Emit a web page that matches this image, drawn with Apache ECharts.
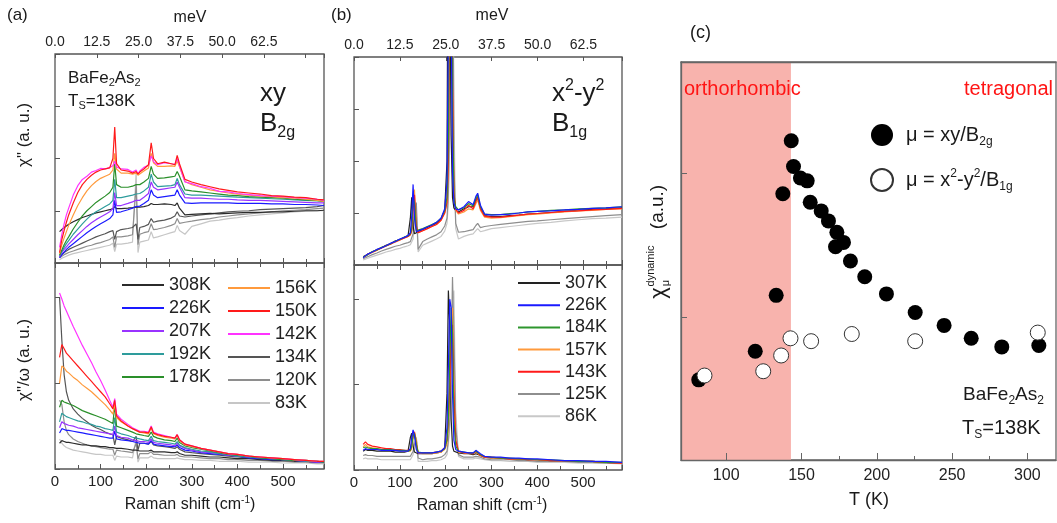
<!DOCTYPE html>
<html>
<head>
<meta charset="utf-8">
<title>BaFe2As2 Raman spectra</title>
<script src="https://cdn.jsdelivr.net/npm/echarts@6.0.0/dist/echarts.min.js"></script>
<style>
  html, body { margin: 0; padding: 0; background: #fff; }
  #chart { width: 1057px; height: 523px; }
</style>
</head>
<body>
<div id="chart"></div>
<script>
// Raman shift sampling, cm-1
const shiftA = [10,15,20,25,30,40,50,60,70,80,90,100,110,120,127,131,135,145,160,170,178,182,186,195,205,211,216,225,240,255,263,268,273,285,300,320,340,360,380,400,425,450,475,500,525,550,575,590];
const shiftB = [20,25,30,40,50,60,70,80,90,100,110,118,123,126,129,132,136,140,150,160,170,180,190,198,203,206,209,212,215,218,222,228,240,250,260,266,270,276,285,300,320,340,360,380,400,430,460,490,520,550,585];

// (a) xy / B2g : chi'' (top)
const chiA308 = [0.60,0.64,0.68,0.71,0.74,0.79,0.83,0.87,0.90,0.93,0.96,0.98,1.00,1.02,1.04,1.08,1.04,1.04,1.05,1.06,1.07,1.05,1.07,1.08,1.10,1.14,1.12,1.12,1.13,1.12,1.10,1.15,1.05,0.92,0.93,0.94,0.95,0.94,0.95,0.96,0.97,0.97,0.98,0.98,0.99,1.00,1.00,1.01];
const chiA226 = [0.10,0.16,0.21,0.26,0.30,0.37,0.44,0.51,0.58,0.64,0.70,0.75,0.80,0.85,0.92,1.20,0.97,0.98,1.02,1.05,1.08,1.07,1.09,1.14,1.20,1.40,1.30,1.25,1.27,1.29,1.30,1.40,1.30,1.15,1.14,1.15,1.15,1.15,1.15,1.14,1.14,1.14,1.13,1.13,1.12,1.12,1.11,1.10];
const chiA207 = [0.12,0.20,0.26,0.31,0.36,0.45,0.54,0.62,0.70,0.77,0.83,0.88,0.93,0.98,1.04,1.35,1.10,1.10,1.14,1.17,1.20,1.18,1.20,1.26,1.33,1.55,1.45,1.40,1.42,1.44,1.45,1.55,1.45,1.25,1.24,1.24,1.23,1.22,1.22,1.21,1.20,1.20,1.19,1.18,1.17,1.16,1.15,1.15];
const chiA192 = [0.14,0.22,0.30,0.37,0.43,0.55,0.65,0.75,0.84,0.92,0.98,1.03,1.08,1.13,1.20,1.60,1.25,1.25,1.28,1.30,1.32,1.30,1.33,1.38,1.45,1.70,1.55,1.46,1.47,1.48,1.50,1.62,1.50,1.32,1.30,1.30,1.29,1.28,1.27,1.26,1.25,1.24,1.23,1.22,1.21,1.20,1.19,1.18];
const chiA178 = [0.15,0.25,0.35,0.43,0.50,0.65,0.78,0.90,1.00,1.08,1.16,1.22,1.28,1.35,1.45,1.90,1.50,1.45,1.45,1.47,1.50,1.48,1.50,1.55,1.62,1.85,1.70,1.62,1.63,1.65,1.66,1.75,1.66,1.40,1.38,1.36,1.34,1.32,1.30,1.29,1.27,1.26,1.25,1.24,1.22,1.21,1.20,1.18];
const chiA156 = [0.18,0.35,0.48,0.60,0.72,0.92,1.10,1.25,1.38,1.48,1.56,1.62,1.66,1.70,1.78,2.10,1.80,1.72,1.72,1.70,1.72,1.68,1.70,1.76,1.82,2.10,1.92,1.85,1.85,1.86,1.85,1.95,1.84,1.56,1.50,1.45,1.40,1.37,1.34,1.32,1.30,1.28,1.27,1.25,1.24,1.22,1.20,1.18];
const chiA150 = [0.20,0.45,0.62,0.78,0.92,1.15,1.35,1.50,1.60,1.68,1.74,1.78,1.80,1.82,2.00,2.60,1.90,1.78,1.76,1.72,1.75,1.70,1.74,1.80,1.88,2.30,2.00,1.90,1.93,1.90,1.88,2.06,1.90,1.60,1.55,1.50,1.46,1.42,1.39,1.36,1.34,1.32,1.29,1.28,1.26,1.25,1.22,1.21];
const chiA142 = [0.30,0.55,0.75,0.92,1.05,1.30,1.48,1.60,1.66,1.74,1.77,1.81,1.80,1.83,1.86,1.95,1.84,1.80,1.79,1.74,1.78,1.71,1.76,1.83,1.87,2.05,1.94,1.88,1.92,1.90,1.89,2.00,1.86,1.55,1.52,1.46,1.43,1.37,1.36,1.33,1.31,1.29,1.28,1.27,1.25,1.24,1.22,1.20];
const chiA134 = [0.12,0.16,0.20,0.23,0.26,0.30,0.34,0.38,0.42,0.46,0.50,0.53,0.56,0.60,0.62,0.45,0.60,0.64,0.66,0.68,0.75,0.45,0.68,0.70,0.74,0.85,0.78,0.80,0.82,0.86,0.90,0.98,0.90,0.88,0.90,0.92,0.94,0.96,0.98,0.99,1.00,1.02,1.03,1.04,1.05,1.06,1.08,1.10];
const chiA120 = [0.10,0.13,0.16,0.18,0.20,0.23,0.26,0.29,0.32,0.34,0.37,0.39,0.42,0.45,0.50,0.30,0.50,0.50,0.52,0.54,1.50,0.35,0.55,0.58,0.60,0.75,0.64,0.65,0.68,0.72,0.75,0.85,0.76,0.78,0.80,0.83,0.85,0.88,0.90,0.92,0.94,0.96,0.98,1.00,1.01,1.02,1.04,1.05];
const chiA83  = [0.06,0.09,0.11,0.13,0.15,0.18,0.20,0.22,0.24,0.26,0.28,0.30,0.32,0.34,0.38,0.22,0.36,0.36,0.38,0.40,1.75,0.20,0.40,0.42,0.44,0.60,0.48,0.50,0.54,0.58,0.60,0.72,0.62,0.55,0.70,0.75,0.80,0.82,0.85,0.87,0.90,0.92,0.94,0.96,0.98,0.99,1.00,1.00];

// (a) xy / B2g : chi''/omega (bottom)
const rA308 = [0.30,0.33,0.32,0.31,0.31,0.30,0.29,0.28,0.28,0.27,0.27,0.26,0.26,0.25,0.25,0.27,0.24,0.24,0.23,0.22,0.22,0.22,0.21,0.21,0.21,0.22,0.20,0.20,0.20,0.19,0.19,0.20,0.18,0.16,0.16,0.15,0.14,0.14,0.13,0.12,0.12,0.11,0.10,0.10,0.09,0.09,0.08,0.08];
const rA226 = [0.42,0.47,0.46,0.45,0.45,0.44,0.43,0.42,0.41,0.40,0.39,0.38,0.37,0.36,0.36,0.44,0.35,0.34,0.33,0.32,0.31,0.31,0.30,0.30,0.29,0.33,0.29,0.28,0.27,0.26,0.26,0.28,0.25,0.22,0.21,0.19,0.18,0.17,0.16,0.15,0.13,0.12,0.11,0.11,0.10,0.09,0.08,0.08];
const rA207 = [0.48,0.55,0.53,0.52,0.51,0.50,0.48,0.47,0.46,0.45,0.44,0.43,0.42,0.41,0.40,0.50,0.39,0.37,0.36,0.34,0.33,0.33,0.32,0.32,0.31,0.35,0.31,0.30,0.29,0.28,0.27,0.30,0.27,0.24,0.22,0.20,0.19,0.18,0.16,0.15,0.14,0.13,0.12,0.11,0.10,0.09,0.08,0.08];
const rA192 = [0.55,0.65,0.63,0.61,0.60,0.58,0.56,0.55,0.53,0.52,0.50,0.49,0.47,0.46,0.45,0.60,0.43,0.41,0.39,0.37,0.36,0.35,0.35,0.34,0.33,0.38,0.33,0.32,0.31,0.30,0.29,0.32,0.28,0.25,0.23,0.21,0.20,0.18,0.17,0.15,0.14,0.13,0.12,0.11,0.10,0.09,0.09,0.08];
const rA178 = [0.72,0.80,0.78,0.77,0.76,0.74,0.71,0.68,0.66,0.64,0.62,0.60,0.58,0.55,0.53,0.75,0.50,0.48,0.45,0.43,0.41,0.40,0.40,0.39,0.38,0.43,0.38,0.36,0.34,0.33,0.32,0.36,0.31,0.27,0.25,0.23,0.21,0.19,0.17,0.16,0.15,0.13,0.12,0.11,0.10,0.10,0.09,0.08];
const rA156 = [1.00,1.20,1.18,1.14,1.12,1.07,1.03,0.98,0.94,0.90,0.85,0.80,0.75,0.69,0.64,0.76,0.60,0.55,0.50,0.47,0.45,0.44,0.43,0.42,0.41,0.48,0.41,0.39,0.37,0.36,0.35,0.39,0.33,0.28,0.26,0.24,0.22,0.20,0.18,0.17,0.15,0.14,0.13,0.12,0.11,0.10,0.09,0.09];
const rA150 = [1.30,1.45,1.40,1.35,1.32,1.26,1.20,1.14,1.08,1.02,0.96,0.90,0.84,0.76,0.70,0.80,0.62,0.56,0.50,0.47,0.45,0.44,0.43,0.43,0.42,0.49,0.42,0.40,0.38,0.37,0.36,0.40,0.34,0.29,0.27,0.24,0.22,0.20,0.18,0.17,0.15,0.14,0.13,0.12,0.11,0.10,0.09,0.09];
const rA142 = [2.05,1.98,1.90,1.84,1.78,1.66,1.55,1.44,1.34,1.24,1.13,1.03,0.92,0.80,0.72,0.82,0.64,0.58,0.52,0.48,0.46,0.45,0.44,0.44,0.43,0.50,0.43,0.41,0.39,0.37,0.36,0.40,0.34,0.29,0.27,0.24,0.22,0.20,0.18,0.17,0.15,0.14,0.13,0.12,0.11,0.10,0.09,0.09];
const rA134 = [2.00,1.50,1.10,0.90,0.80,0.70,0.64,0.59,0.55,0.51,0.48,0.46,0.43,0.41,0.40,0.28,0.38,0.36,0.34,0.32,0.38,0.22,0.30,0.30,0.29,0.32,0.28,0.27,0.26,0.25,0.24,0.26,0.23,0.20,0.19,0.18,0.17,0.16,0.15,0.14,0.13,0.12,0.11,0.10,0.10,0.09,0.09,0.08];
const rA120 = [0.80,0.75,0.55,0.45,0.40,0.35,0.32,0.30,0.28,0.27,0.26,0.25,0.24,0.23,0.23,0.16,0.22,0.21,0.20,0.19,0.30,0.12,0.18,0.18,0.18,0.20,0.17,0.17,0.16,0.16,0.16,0.17,0.15,0.14,0.14,0.13,0.12,0.12,0.11,0.11,0.10,0.10,0.09,0.09,0.08,0.08,0.07,0.07];
const rA83  = [0.35,0.30,0.27,0.25,0.24,0.22,0.21,0.20,0.19,0.18,0.17,0.17,0.16,0.16,0.16,0.10,0.15,0.14,0.14,0.13,0.35,0.08,0.13,0.13,0.13,0.15,0.13,0.12,0.12,0.12,0.12,0.13,0.12,0.11,0.11,0.10,0.10,0.09,0.09,0.09,0.08,0.08,0.08,0.07,0.07,0.07,0.06,0.06];

// (b) x2-y2 / B1g : chi'' (top)
const chiB307 = [0.15,0.17,0.20,0.25,0.29,0.33,0.38,0.41,0.46,0.49,0.53,0.56,0.90,1.30,0.75,0.60,0.62,0.64,0.68,0.72,0.76,0.80,0.88,1.05,2.0,8.0,6.0,2.5,1.3,1.1,1.05,1.02,1.08,1.12,1.12,1.25,1.30,1.10,0.95,0.93,0.93,0.95,0.96,0.98,0.99,1.01,1.03,1.05,1.07,1.08,1.10];
const chiB226 = [0.14,0.18,0.21,0.25,0.30,0.33,0.37,0.42,0.45,0.50,0.53,0.57,0.62,0.95,1.55,0.90,0.64,0.65,0.69,0.73,0.77,0.82,0.90,1.08,1.6,4.5,8.0,5.0,1.8,1.2,1.08,1.06,1.12,1.22,1.16,1.32,1.38,1.15,0.98,0.96,0.97,0.98,1.00,1.02,1.03,1.04,1.06,1.07,1.09,1.10,1.12];
const chiB184 = [0.16,0.18,0.20,0.26,0.29,0.34,0.37,0.41,0.46,0.49,0.54,0.56,0.60,0.70,1.30,1.20,0.66,0.66,0.70,0.74,0.78,0.82,0.90,1.05,1.3,2.5,6.0,8.0,3.0,1.3,1.12,1.06,1.10,1.18,1.14,1.28,1.35,1.12,0.98,0.97,0.97,0.99,1.00,1.02,1.03,1.05,1.06,1.08,1.09,1.10,1.12];
const chiB157 = [0.15,0.17,0.21,0.24,0.28,0.33,0.36,0.41,0.44,0.48,0.52,0.55,0.58,0.65,1.10,1.45,0.70,0.62,0.66,0.70,0.74,0.78,0.86,1.00,1.2,2.0,5.0,8.0,3.5,1.4,1.05,0.98,1.02,1.08,1.06,1.18,1.25,1.05,0.92,0.90,0.91,0.93,0.95,0.97,0.98,1.00,1.02,1.04,1.05,1.07,1.08];
const chiB143 = [0.16,0.18,0.21,0.25,0.29,0.33,0.37,0.40,0.45,0.48,0.52,0.55,0.58,0.66,1.05,1.35,0.75,0.62,0.66,0.70,0.74,0.78,0.86,1.00,1.2,2.0,5.0,8.0,3.5,1.4,1.08,1.00,1.05,1.15,1.08,1.22,1.30,1.08,0.94,0.92,0.92,0.94,0.96,0.98,0.99,1.01,1.03,1.04,1.06,1.07,1.09];
const chiB125 = [0.12,0.14,0.16,0.20,0.23,0.27,0.30,0.33,0.36,0.38,0.41,0.43,0.45,0.48,0.60,1.00,1.20,0.30,0.45,0.50,0.54,0.58,0.64,0.75,0.9,1.4,3.0,6.0,8.0,2.0,0.80,0.63,0.64,0.66,0.68,0.76,0.80,0.72,0.74,0.76,0.78,0.80,0.82,0.84,0.85,0.87,0.89,0.91,0.93,0.95,0.97];
const chiB86  = [0.10,0.11,0.13,0.16,0.19,0.22,0.25,0.27,0.30,0.32,0.35,0.37,0.39,0.41,0.50,0.85,1.05,0.25,0.38,0.42,0.46,0.50,0.55,0.65,0.8,1.2,2.5,5.0,8.0,3.0,0.70,0.50,0.55,0.58,0.60,0.66,0.70,0.64,0.66,0.70,0.72,0.74,0.76,0.78,0.80,0.82,0.85,0.87,0.89,0.90,0.92];

// (b) x2-y2 / B1g : chi''/omega (bottom)
const rB307 = [0.22,0.24,0.23,0.23,0.22,0.22,0.22,0.22,0.21,0.21,0.21,0.22,0.38,0.43,0.28,0.21,0.20,0.19,0.19,0.19,0.19,0.20,0.21,0.26,0.9,2.10,1.70,0.60,0.28,0.22,0.21,0.20,0.19,0.19,0.18,0.19,0.20,0.17,0.15,0.14,0.14,0.13,0.13,0.12,0.12,0.11,0.11,0.10,0.10,0.09,0.08];
const rB226 = [0.23,0.25,0.24,0.24,0.24,0.23,0.23,0.23,0.23,0.22,0.22,0.22,0.25,0.38,0.47,0.40,0.24,0.20,0.20,0.20,0.20,0.21,0.22,0.26,0.50,1.20,2.00,1.90,0.90,0.35,0.24,0.22,0.21,0.20,0.20,0.23,0.24,0.19,0.16,0.15,0.15,0.14,0.14,0.13,0.13,0.12,0.11,0.11,0.10,0.10,0.09];
const rB184 = [0.26,0.27,0.26,0.25,0.25,0.24,0.24,0.24,0.23,0.23,0.23,0.22,0.23,0.28,0.40,0.43,0.30,0.21,0.20,0.20,0.20,0.21,0.22,0.25,0.35,0.60,1.30,1.90,1.60,0.60,0.28,0.22,0.21,0.20,0.20,0.22,0.23,0.18,0.16,0.15,0.14,0.14,0.13,0.13,0.12,0.12,0.11,0.10,0.10,0.09,0.09];
const rB157 = [0.27,0.30,0.27,0.26,0.25,0.24,0.24,0.23,0.23,0.23,0.22,0.22,0.22,0.25,0.38,0.45,0.35,0.20,0.19,0.19,0.19,0.20,0.21,0.24,0.30,0.50,0.90,1.60,1.90,1.00,0.35,0.21,0.20,0.19,0.19,0.21,0.22,0.17,0.15,0.14,0.14,0.13,0.13,0.12,0.12,0.11,0.11,0.10,0.10,0.09,0.08];
const rB143 = [0.30,0.33,0.30,0.28,0.27,0.26,0.25,0.25,0.24,0.24,0.23,0.23,0.23,0.25,0.40,0.44,0.30,0.20,0.20,0.20,0.20,0.21,0.22,0.26,0.35,0.60,1.00,1.55,1.70,0.90,0.35,0.22,0.20,0.20,0.19,0.22,0.22,0.17,0.15,0.15,0.14,0.13,0.13,0.12,0.12,0.11,0.11,0.10,0.10,0.09,0.08];
const rB125 = [0.17,0.18,0.17,0.17,0.16,0.16,0.16,0.16,0.16,0.16,0.16,0.16,0.16,0.18,0.22,0.30,0.38,0.14,0.12,0.13,0.13,0.14,0.15,0.18,0.22,0.35,0.60,1.30,2.26,1.60,0.50,0.18,0.15,0.15,0.15,0.16,0.17,0.15,0.13,0.12,0.12,0.12,0.11,0.11,0.10,0.10,0.10,0.09,0.09,0.08,0.08];
const rB86  = [0.13,0.14,0.13,0.13,0.13,0.12,0.12,0.12,0.12,0.12,0.12,0.12,0.12,0.14,0.18,0.25,0.32,0.10,0.10,0.10,0.11,0.11,0.12,0.14,0.18,0.30,0.50,1.00,2.00,2.10,0.70,0.16,0.13,0.13,0.13,0.14,0.15,0.13,0.12,0.11,0.11,0.10,0.10,0.10,0.09,0.09,0.09,0.08,0.08,0.08,0.07];

// (c) dynamic susceptibility vs temperature
const tempB2g = [81.8,119.3,133.2,137.6,143.2,144.7,149.3,153.8,155.8,163.1,167.9,172.6,173.5,177.9,182.5,192,206.4,225.5,244.7,262.7,283,307.6];
const chiDynB2g = [0.56,0.76,1.15,1.86,2.23,2.05,1.97,1.95,1.80,1.74,1.67,1.49,1.59,1.52,1.39,1.28,1.16,1.03,0.94,0.85,0.79,0.80];
const tempB1g = [85.6,124.6,136.5,142.7,156.4,183.4,225.5,306.9];
const chiDynB1g = [0.59,0.62,0.73,0.85,0.83,0.88,0.83,0.89];
const orthoRange = [70, 143];

const tLabels = [100, 150, 200, 250, 300];
const tMinor = [75, 125, 175, 225, 275];
const meVTicks = [0, 12.5, 25, 37.5, 50, 62.5];

const FONT = "'Liberation Sans', Arial, sans-serif";
const frame = '#555';

const curvesA = [
  ['83K',  chiA83,  rA83,  '#c6c6c6'],
  ['120K', chiA120, rA120, '#8e8e8e'],
  ['134K', chiA134, rA134, '#555555'],
  ['308K', chiA308, rA308, '#2b2b2b'],
  ['226K', chiA226, rA226, '#1a1aff'],
  ['207K', chiA207, rA207, '#9933ff'],
  ['192K', chiA192, rA192, '#2e9c9c'],
  ['178K', chiA178, rA178, '#2a8f2a'],
  ['156K', chiA156, rA156, '#ff9a3c'],
  ['142K', chiA142, rA142, '#ff33ff'],
  ['150K', chiA150, rA150, '#ff1a1a']
];
const curvesB = [
  ['86K',  chiB86,  rB86,  '#c8c8c8'],
  ['125K', chiB125, rB125, '#8e8e8e'],
  ['307K', chiB307, rB307, '#222222'],
  ['157K', chiB157, rB157, '#ff9a3c'],
  ['143K', chiB143, rB143, '#ff1a1a'],
  ['184K', chiB184, rB184, '#2e962e'],
  ['226K', chiB226, rB226, '#1a1aff']
];

function zip(xs, ys) { return xs.map((x, i) => [x, ys[i]]); }

function curve(name, xs, ys, color, xi, yi) {
  return {
    name: name, type: 'line', xAxisIndex: xi, yAxisIndex: yi,
    data: zip(xs, ys), symbol: 'none', showSymbol: false,
    lineStyle: { width: 1.2, color: color }, itemStyle: { color: color },
    animation: false, silent: true
  };
}

function cmAxis(gi, pos, max, labels) {
  return {
    type: 'value', gridIndex: gi, position: pos, min: 0, max: max, interval: 100,
    axisLine: { show: false },
    axisTick: { show: true, inside: true, length: 5, lineStyle: { color: frame } },
    minorTick: { show: true, splitNumber: 2, length: 4, lineStyle: { color: frame } },
    axisLabel: labels ? { show: true, fontSize: 15, fontFamily: FONT, color: '#222', margin: 5,
      formatter: v => (v % 100 === 0 ? String(v) : '') } : { show: false },
    splitLine: { show: false }, minorSplitLine: { show: false }
  };
}

function meVAxis(gi, max) {
  return {
    type: 'value', gridIndex: gi, position: 'top', min: 0, max: max, interval: 12.5,
    axisLine: { show: false },
    axisTick: { show: true, inside: true, length: 4, lineStyle: { color: frame } },
    axisLabel: { show: true, fontSize: 14, fontFamily: FONT, color: '#222', margin: 5,
      customValues: meVTicks, formatter: v => v.toFixed(1) },
    splitLine: { show: false }
  };
}

function yFrame(gi, max) {
  return {
    type: 'value', gridIndex: gi, min: 0, max: max, interval: 1,
    axisLine: { show: false },
    axisTick: { show: true, inside: true, length: 5, lineStyle: { color: frame } },
    axisLabel: { show: false }, splitLine: { show: false }
  };
}

function txt(x, y, text, size, extra) {
  const st = Object.assign({
    text: text, fontSize: size, fontFamily: FONT, fill: '#1a1a1a',
    align: 'left', textAlign: 'left', verticalAlign: 'middle', textVerticalAlign: 'middle'
  }, extra || {});
  return { type: 'text', x: x, y: y, z: 100, style: st, silent: true };
}
function richSet(size) {
  const s = Math.round(size * 0.62);
  return {
    m: { fontSize: size, fontFamily: FONT, lineHeight: Math.round(size * 1.25), fill: '#1a1a1a', color: '#1a1a1a' },
    s: { fontSize: s, fontFamily: FONT, lineHeight: Math.round(size * 0.6), verticalAlign: 'bottom', fill: '#1a1a1a', color: '#1a1a1a' },
    p: { fontSize: s, fontFamily: FONT, lineHeight: Math.round(size * 0.6), verticalAlign: 'top', fill: '#1a1a1a', color: '#1a1a1a' }
  };
}
function rtxt(x, y, text, size, extra) {
  return txt(x, y, text, size, Object.assign({ rich: richSet(size) }, extra || {}));
}
function vtxt(x, y, text, size) {
  return {
    type: 'text', x: x, y: y, z: 100, rotation: Math.PI / 2, silent: true,
    style: { text: text, fontSize: size, fontFamily: FONT, fill: '#1a1a1a',
      align: 'center', textAlign: 'center', verticalAlign: 'middle', textVerticalAlign: 'middle' }
  };
}

const series = [];
curvesA.forEach(c => {
  series.push(curve(c[0], shiftA, c[1], c[3], 0, 0));
  series.push(curve(c[0], shiftA, c[2], c[3], 2, 1));
});
curvesB.forEach(c => {
  series.push(curve(c[0], shiftB, c[1], c[3], 4, 2));
  series.push(curve(c[0], shiftB, c[2], c[3], 6, 3));
});
series.push({
  name: 'B2g', type: 'scatter', xAxisIndex: 8, yAxisIndex: 4,
  data: zip(tempB2g, chiDynB2g), symbol: 'circle', symbolSize: 15,
  itemStyle: { color: '#000', opacity: 1 }, animation: false, silent: true, z: 3,
  markArea: {
    silent: true, label: { show: false },
    itemStyle: { color: '#f8b3ad', opacity: 1 },
    data: [[{ xAxis: orthoRange[0] }, { xAxis: orthoRange[1] }]]
  }
});
series.push({
  name: 'B1g', type: 'scatter', xAxisIndex: 8, yAxisIndex: 4,
  data: zip(tempB1g, chiDynB1g), symbol: 'circle', symbolSize: 15,
  itemStyle: { color: '#fff', borderColor: '#333', borderWidth: 1, opacity: 1 },
  animation: false, silent: true, z: 4
});

// line legends: a flat bar stands in for the line sample
const lineLegend = (names, left, top, gap) => ({
  data: names, left: left, top: top, orient: 'vertical', padding: 0,
  icon: 'rect', itemWidth: 42, itemHeight: 2, itemGap: gap, selectedMode: false,
  textStyle: { fontSize: 18, fontFamily: FONT, color: '#222', lineHeight: 18 }
});

const chart = echarts.init(document.getElementById('chart'), null, { renderer: 'canvas' });
chart.setOption({
  animation: false,
  backgroundColor: '#fff',
  grid: [
    { left: 55, top: 54, width: 269, height: 209, show: true, borderColor: frame, borderWidth: 1.3 },
    { left: 55, top: 263, width: 269, height: 206, show: true, borderColor: frame, borderWidth: 1.3 },
    { left: 354, top: 57, width: 268, height: 208, show: true, borderColor: frame, borderWidth: 1.3 },
    { left: 354, top: 265, width: 268, height: 205, show: true, borderColor: frame, borderWidth: 1.3 },
    { left: 681, top: 62, width: 375, height: 398, show: true, borderColor: '#666', borderWidth: 1.3 }
  ],
  xAxis: [
    cmAxis(0, 'bottom', 590, false),
    meVAxis(0, 80.5),
    cmAxis(1, 'bottom', 590, true),
    cmAxis(1, 'top', 590, false),
    cmAxis(2, 'bottom', 585, false),
    meVAxis(2, 73),
    cmAxis(3, 'bottom', 585, true),
    cmAxis(3, 'top', 585, false),
    {
      type: 'value', gridIndex: 4, position: 'bottom', min: 70, max: 319, z: 5,
      axisLine: { show: true, lineStyle: { color: '#666', width: 1.3 } },
      axisTick: { show: true, inside: true, length: 7, customValues: tLabels, lineStyle: { color: '#666' } },
      axisLabel: { show: true, customValues: tLabels, fontSize: 16, fontFamily: FONT, color: '#222', margin: 8 },
      splitLine: { show: false }
    },
    {
      type: 'value', gridIndex: 4, position: 'bottom', min: 70, max: 319,
      axisLine: { show: false },
      axisTick: { show: true, inside: true, length: 4, customValues: tMinor, lineStyle: { color: '#666' } },
      axisLabel: { show: false }, splitLine: { show: false }
    },
    {
      type: 'value', gridIndex: 4, position: 'top', min: 70, max: 319, z: 5,
      axisLine: { show: true, lineStyle: { color: '#666', width: 1.3 } },
      axisTick: { show: false }, axisLabel: { show: false }, splitLine: { show: false }
    }
  ],
  yAxis: [
    yFrame(0, 4),
    yFrame(1, 2.4),
    yFrame(2, 4),
    yFrame(3, 2.4),
    {
      type: 'value', gridIndex: 4, min: 0, max: 2.78, z: 5,
      axisLine: { show: true, lineStyle: { color: '#666', width: 1.3 } },
      axisTick: { show: true, inside: true, length: 6, customValues: [1, 2], lineStyle: { color: '#666' } },
      axisLabel: { show: false }, splitLine: { show: false }
    }
  ],
  legend: [
    lineLegend(['308K', '226K', '207K', '192K', '178K'], 122, 276, 5),
    lineLegend(['156K', '150K', '142K', '134K', '120K', '83K'], 228, 279, 5),
    lineLegend(['307K', '226K', '184K', '157K', '143K', '125K', '86K'], 518, 274, 4.2),
    {
      data: ['B2g', 'B1g'], left: 870, top: 124, orient: 'vertical', padding: 0,
      itemWidth: 22, itemHeight: 22, itemGap: 20, selectedMode: false,
      formatter: n => (n === 'B2g' ? '{m|μ = xy/B}{s|2g}' : '{m|μ = x}{p|2}{m|-y}{p|2}{m|/B}{s|1g}'),
      textStyle: { color: '#111', padding: [0, 0, 0, 8], rich: richSet(20) }
    }
  ],
  graphic: [
    txt(7, 15, '(a)', 17),
    txt(190, 18, 'meV', 16, { align: 'center', textAlign: 'center' }),
    txt(331, 15, '(b)', 17),
    txt(492, 16, 'meV', 16, { align: 'center', textAlign: 'center' }),
    txt(690, 33, '(c)', 18),
    rtxt(68, 78, '{m|BaFe}{s|2}{m|As}{s|2}', 17),
    rtxt(68, 101, '{m|T}{s|S}{m|=138K}', 17),
    txt(260, 94, 'xy', 26),
    rtxt(260, 124, '{m|B}{s|2g}', 26),
    rtxt(552, 94, '{m|x}{p|2}{m|-y}{p|2}', 26),
    rtxt(552, 124, '{m|B}{s|1g}', 26),
    vtxt(24, 135, 'χ" (a. u.)', 17),
    vtxt(24, 360, 'χ"/ω (a. u.)', 17),
    rtxt(190, 505, '{m|Raman shift (cm}{p|-1}{m|)}', 16, { align: 'center', textAlign: 'center' }),
    rtxt(482, 506, '{m|Raman shift (cm}{p|-1}{m|)}', 16, { align: 'center', textAlign: 'center' }),
    txt(869, 500, 'T (K)', 18, { align: 'center', textAlign: 'center' }),
    txt(684, 89, 'orthorhombic', 20, { fill: '#ff1414' }),
    txt(1053, 89, 'tetragonal', 20, { fill: '#ff1414', align: 'right', textAlign: 'right' }),
    rtxt(963, 395, '{m|BaFe}{s|2}{m|As}{s|2}', 19),
    rtxt(962, 428, '{m|T}{s|S}{m|=138K}', 20),
    vtxt(659, 293, 'χ', 22),
    vtxt(651, 266, 'dynamic', 11),
    vtxt(666, 283, 'μ', 11),
    vtxt(658, 207, '(a.u.)', 19)
  ],
  series: series
});
</script>
</body>
</html>
